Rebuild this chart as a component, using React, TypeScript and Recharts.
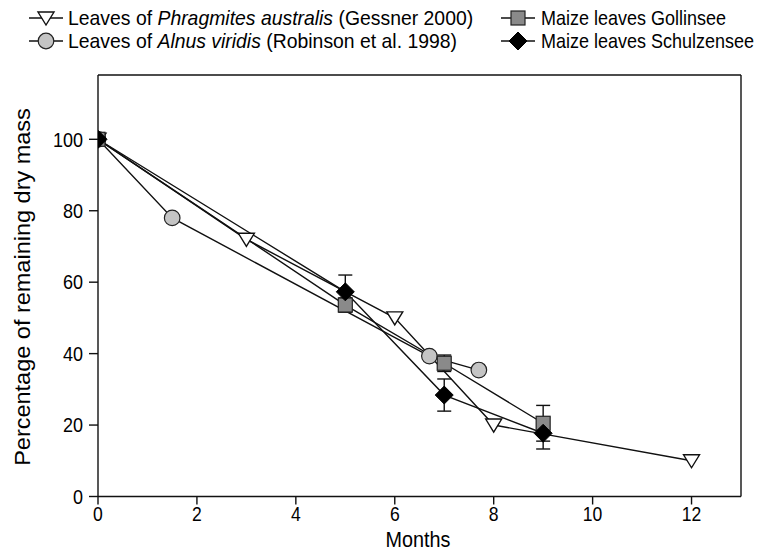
import React from 'react';
import { LineChart, Line, XAxis, YAxis, ErrorBar, ReferenceLine } from 'recharts';

const phragmitesMonths = [0, 3, 6, 8, 12];
const phragmitesMass = [100, 72, 50, 20, 10];
const alnusMonths = [0, 1.5, 6.7, 7.7];
const alnusMass = [100, 78, 39.3, 35.4];
const gollinseeMonths = [0, 5, 7, 9];
const gollinseeMass = [100, 53.6, 37.3, 20.5];
const gollinseeErr = [0, 2, 2.3, 5];
const schulzenseeMonths = [0, 5, 7, 9];
const schulzenseeMass = [100, 57.3, 28.4, 17.7];
const schulzenseeErr = [0, 4.7, 4.5, 4.4];
const xTicks = [0, 2, 4, 6, 8, 10, 12];
const yTicks = [0, 20, 40, 60, 80, 100];

const phragmites = phragmitesMonths.map((m, i) => ({ x: m, y: phragmitesMass[i] }));
const alnus = alnusMonths.map((m, i) => ({ x: m, y: alnusMass[i] }));
const gollinsee = gollinseeMonths.map((m, i) => ({ x: m, y: gollinseeMass[i], err: gollinseeErr[i] }));
const schulzensee = schulzenseeMonths.map((m, i) => ({ x: m, y: schulzenseeMass[i], err: schulzenseeErr[i] }));

const FONT = '"Liberation Sans", Arial, Helvetica, sans-serif';
const FX = 0.9;

const Tri = ({ cx, cy }: any) => (
  <polygon points={`${cx - 8},${cy - 6} ${cx + 8},${cy - 6} ${cx},${cy + 7}`} fill="#fff" stroke="#111" strokeWidth={1.4} />
);
const Circ = ({ cx, cy }: any) => <circle cx={cx} cy={cy} r={7.8} fill="#c4c4c4" stroke="#222" strokeWidth={1.2} />;
const Sq = ({ cx, cy }: any) => <rect x={cx - 7} y={cy - 7} width={14} height={14} fill="#8a8a8a" stroke="#222" strokeWidth={1.2} />;
const Dia = ({ cx, cy }: any) => (
  <polygon points={`${cx},${cy - 9} ${cx + 9},${cy} ${cx},${cy + 9} ${cx - 9},${cy}`} fill="#000" stroke="#000" strokeWidth={1} />
);

const dotOf = (Shape: any) => (p: any) => <Shape key={`${p.index}-${p.cx}`} cx={p.cx} cy={p.cy} />;

const XTick = ({ x, y, payload }: any) => (
  <text transform={`translate(${x},${y}) scale(${FX},1)`} textAnchor="middle" dy="0.75em" fontSize={19.5} fill="#000" fontFamily={FONT}>
    {payload.value}
  </text>
);
const YTick = ({ x, y, payload }: any) => (
  <text transform={`translate(${x},${y}) scale(${FX},1)`} textAnchor="end" dy="0.36em" fontSize={20} fill="#000" fontFamily={FONT}>
    {payload.value}
  </text>
);

const LegendSym = ({ x, y, Shape }: any) => (
  <g>
    <line x1={x - 17} y1={y} x2={x + 17} y2={y} stroke="#111" strokeWidth={1.4} />
    <Shape cx={x} cy={y} />
  </g>
);

const LegendText = ({ x, y, sx, children }: any) => (
  <text transform={`translate(${x},${y}) scale(${sx},1)`} dy="0.36em" fontSize={20} fill="#000" fontFamily={FONT}>
    {children}
  </text>
);

export default function App() {
  return (
    <div style={{ position: 'relative', width: 756, height: 544, background: '#fff' }}>
      <LineChart width={756} height={544} margin={{ top: 67, right: 23, left: 0, bottom: 0 }}>
        <XAxis
          type="number"
          dataKey="x"
          domain={[0, 13]}
          ticks={xTicks}
          allowDataOverflow
          height={55.5}
          tickSize={8}
          tickMargin={2}
          stroke="#111"
          strokeWidth={1.4}
          tick={<XTick />}
          label={{
            content: () => (
              <text transform={`translate(410,531) scale(${FX},1)`} textAnchor="middle" dy="0.36em" fontSize={22} fill="#000" fontFamily={FONT}>
                Months
              </text>
            ),
          }}
        />
        <YAxis
          type="number"
          dataKey="y"
          domain={[0, 118]}
          ticks={yTicks}
          allowDataOverflow
          width={90}
          tickSize={9}
          tickMargin={6}
          stroke="#111"
          strokeWidth={1.4}
          tick={<YTick />}
          label={{
            content: () => (
              <text transform={`translate(14,279) scale(0.95,1) rotate(-90)`} textAnchor="middle" dy="0.36em" fontSize={23.5} fill="#000" fontFamily={FONT}>
                Percentage of remaining dry mass
              </text>
            ),
          }}
        />
        <ReferenceLine y={118} stroke="#111" strokeWidth={1.4} />
        <ReferenceLine x={13} stroke="#111" strokeWidth={1.4} />
        <Line data={phragmites} dataKey="y" stroke="#111" strokeWidth={1.4} dot={dotOf(Tri)} isAnimationActive={false} />
        <Line data={alnus} dataKey="y" stroke="#111" strokeWidth={1.4} dot={dotOf(Circ)} isAnimationActive={false} />
        <Line data={gollinsee} dataKey="y" stroke="#111" strokeWidth={1.4} dot={dotOf(Sq)} isAnimationActive={false}>
          <ErrorBar dataKey="err" direction="y" width={7} stroke="#111" strokeWidth={1.4} />
        </Line>
        <Line data={schulzensee} dataKey="y" stroke="#111" strokeWidth={1.4} dot={dotOf(Dia)} isAnimationActive={false}>
          <ErrorBar dataKey="err" direction="y" width={7} stroke="#111" strokeWidth={1.4} />
        </Line>
      </LineChart>
      <svg width={764} height={70} style={{ position: 'absolute', left: -8, top: -8 }}>
        <LegendSym x={46} y={18} Shape={Tri} />
        <LegendText x={68} y={18} sx={0.97}>
          Leaves of <tspan fontStyle="italic">Phragmites australis</tspan> (Gessner 2000)
        </LegendText>
        <LegendSym x={46} y={41} Shape={Circ} />
        <LegendText x={68} y={41} sx={0.97}>
          Leaves of <tspan fontStyle="italic">Alnus viridis</tspan> (Robinson et al. 1998)
        </LegendText>
        <LegendSym x={518} y={18} Shape={Sq} />
        <LegendText x={541} y={18} sx={0.9}>Maize leaves Gollinsee</LegendText>
        <LegendSym x={518} y={41} Shape={Dia} />
        <LegendText x={541} y={41} sx={0.9}>Maize leaves Schulzensee</LegendText>
      </svg>
    </div>
  );
}
